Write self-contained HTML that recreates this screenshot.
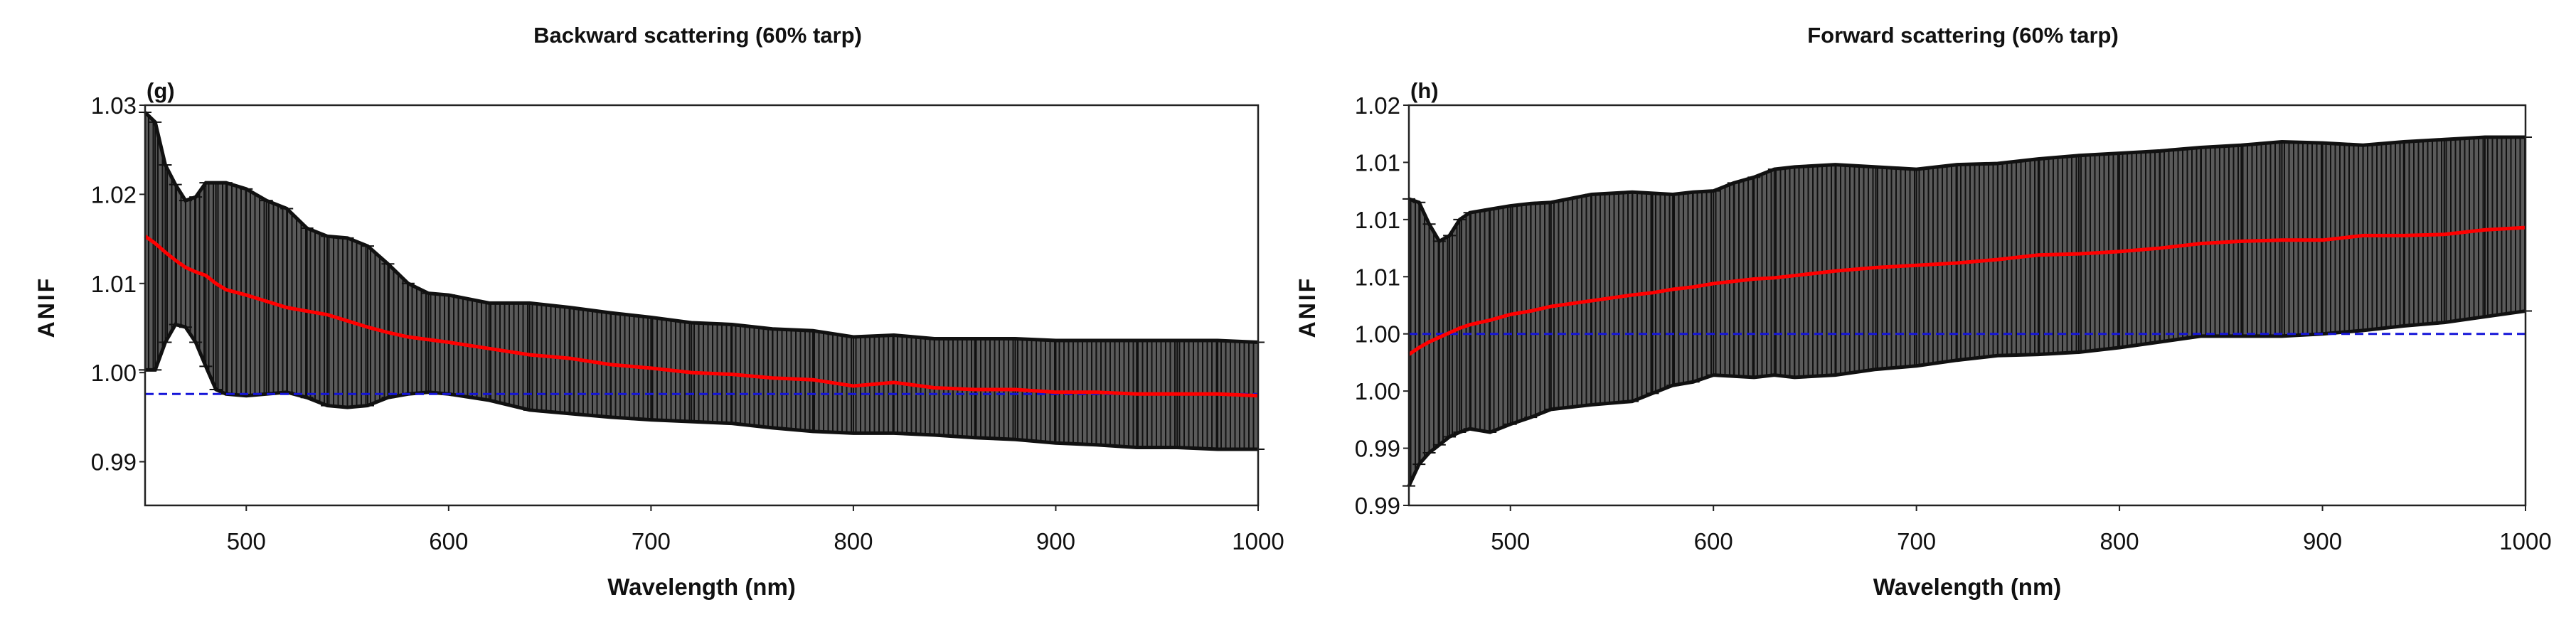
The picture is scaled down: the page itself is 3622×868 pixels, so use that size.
<!DOCTYPE html>
<html><head><meta charset="utf-8"><style>
html,body{margin:0;padding:0;background:#fff;}
svg{display:block;font-family:"Liberation Sans",Arial,sans-serif;}
</style></head><body>
<svg id="c" width="3622" height="868" viewBox="0 0 3622 868">
<defs>
<pattern id="stripes" patternUnits="userSpaceOnUse" width="6.5" height="10">
<rect width="6.5" height="10" fill="#5a5a5a"/>
<rect width="2" height="10" fill="#111"/>
</pattern>
</defs>
</svg>
<script>
// ---- Left chart (g): Backward scattering ----
const gWl    = [450,455,460,465,470,475,480,485,490,500,510,520,530,540,550,560,570,580,590,600,620,640,660,680,700,720,740,760,780,800,820,840,860,880,900,920,940,960,980,1000];
const gUpper = [1.0292,1.0281,1.0233,1.0211,1.0193,1.0197,1.0213,1.0213,1.0213,1.0206,1.0193,1.0184,1.0162,1.0153,1.0151,1.0142,1.0122,1.0100,1.0089,1.0087,1.0078,1.0078,1.0073,1.0067,1.0062,1.0056,1.0054,1.0049,1.0047,1.0040,1.0042,1.0038,1.0038,1.0038,1.0036,1.0036,1.0036,1.0036,1.0036,1.0034];
const gMean  = [1.0153,1.0145,1.0135,1.0126,1.0118,1.0113,1.0109,1.0100,1.0093,1.0087,1.0080,1.0073,1.0069,1.0065,1.0058,1.0051,1.0045,1.0040,1.0037,1.0034,1.0027,1.0020,1.0016,1.0009,1.0005,1.0000,0.9998,0.9994,0.9992,0.9985,0.9989,0.9983,0.9981,0.9981,0.9978,0.9978,0.9976,0.9976,0.9976,0.9974];
const gLower = [1.0003,1.0003,1.0034,1.0054,1.0051,1.0034,1.0007,0.9981,0.9976,0.9974,0.9976,0.9978,0.9972,0.9963,0.9961,0.9963,0.9972,0.9976,0.9978,0.9976,0.9969,0.9958,0.9954,0.9950,0.9947,0.9945,0.9943,0.9938,0.9934,0.9932,0.9932,0.9930,0.9927,0.9925,0.9921,0.9919,0.9916,0.9916,0.9914,0.9914];
const gTicksY = [0.99,1.00,1.01,1.02,1.03];
const gTickLabels = ["0.99","1.00","1.01","1.02","1.03"];
const gRef = 0.9976;
// ---- Right chart (h): Forward scattering ----
const hWl    = [450,455,460,465,470,475,480,490,500,510,520,540,560,570,580,590,600,610,620,630,640,660,680,700,720,740,760,780,800,820,840,860,880,900,920,940,960,980,1000];
const hUpper = [1.0118,1.0115,1.0096,1.0081,1.0086,1.0100,1.0106,1.0109,1.0112,1.0114,1.0115,1.0122,1.0124,1.0123,1.0122,1.0124,1.0125,1.0132,1.0137,1.0144,1.0146,1.0148,1.0146,1.0144,1.0148,1.0149,1.0153,1.0156,1.0158,1.0160,1.0163,1.0165,1.0168,1.0167,1.0165,1.0168,1.0170,1.0172,1.0172];
const hMean  = [0.9982,0.9988,0.9993,0.9997,1.0001,1.0005,1.0008,1.0012,1.0017,1.0020,1.0024,1.0029,1.0034,1.0036,1.0039,1.0041,1.0044,1.0046,1.0048,1.0049,1.0051,1.0055,1.0058,1.0060,1.0062,1.0065,1.0069,1.0070,1.0072,1.0075,1.0079,1.0081,1.0082,1.0082,1.0086,1.0086,1.0087,1.0091,1.0093];
const hLower = [0.9867,0.9886,0.9896,0.9903,0.9910,0.9914,0.9917,0.9914,0.9921,0.9927,0.9934,0.9938,0.9941,0.9948,0.9955,0.9958,0.9964,0.9963,0.9962,0.9964,0.9962,0.9964,0.9969,0.9972,0.9977,0.9981,0.9982,0.9984,0.9988,0.9993,0.9998,0.9998,0.9998,1.0000,1.0003,1.0007,1.0010,1.0015,1.0020];
const hTicksY = [0.985,0.99,0.995,1.00,1.005,1.01,1.015,1.02];
const hTickLabels = ["0.99","0.99","1.00","1.00","1.01","1.01","1.01","1.02"];
const hRef = 1.0;
const xTicks = [500,600,700,800,900,1000];

const NS="http://www.w3.org/2000/svg";
const svg=document.getElementById('c');
function mk(tag,attrs,parent){const e=document.createElementNS(NS,tag);for(const k in attrs)e.setAttribute(k,attrs[k]);(parent||svg).appendChild(e);return e;}

function chart(o){
  const g=mk('g',{});
  
  
  const xs=v=>o.L+(v-450)/(1000-450)*(o.R-o.L);
  const ys=v=>o.B-(v-o.ymin)/(o.ymax-o.ymin)*(o.B-o.T);
  let pts=o.wl.map((w,i)=>xs(w)+','+ys(o.up[i])).concat(o.wl.slice().reverse().map((w,j)=>{const i=o.wl.length-1-j;return xs(w)+','+ys(o.lo[i]);}));
  const band=mk('polygon',{points:pts.join(' '),fill:'url(#stripes)',stroke:'none'},g);
  
  
  o.wl.forEach((w,i)=>{
    const x=xs(w);
    const b=mk('path',{d:`M${x},${ys(o.up[i])}V${ys(o.lo[i])}M${x-9},${ys(o.up[i])}h18M${x-9},${ys(o.lo[i])}h18`,stroke:'#111','stroke-width':2,fill:'none'},g);
    
    
  });
  const ue=mk('polyline',{points:o.wl.map((w,i)=>xs(w)+','+ys(o.up[i])).join(' '),fill:'none',stroke:'#111','stroke-width':5},g);
  
  
  const le=mk('polyline',{points:o.wl.map((w,i)=>xs(w)+','+ys(o.lo[i])).join(' '),fill:'none',stroke:'#111','stroke-width':5},g);
  
  
  const rl=mk('line',{x1:o.L,x2:o.R,y1:ys(o.ref),y2:ys(o.ref),stroke:'#1515d8','stroke-width':3,'stroke-dasharray':'12,7'},g);
  
  
  const ml=mk('polyline',{points:o.wl.map((w,i)=>xs(w)+','+ys(o.mean[i])).join(' '),fill:'none',stroke:'#ff0000','stroke-width':5},g);
  
  
  const fr=mk('rect',{x:o.L,y:o.T,width:o.R-o.L,height:o.B-o.T,fill:'none',stroke:'#222','stroke-width':2.5},g);
  
  
  o.ticks.forEach((t,i)=>{
    const y=ys(t);
    mk('line',{x1:o.L-8,x2:o.L,y1:y,y2:y,stroke:'#222','stroke-width':2},g);
    const tx=mk('text',{x:o.L-12,y:y+12,'text-anchor':'end','font-size':33,fill:'#111'},g);
    tx.textContent=o.labels[i];
    
    
  });
  xTicks.forEach(t=>{
    const x=xs(t);
    mk('line',{x1:x,x2:x,y1:o.B,y2:o.B+8,stroke:'#222','stroke-width':2},g);
    const tx=mk('text',{x:x,y:773,'text-anchor':'middle','font-size':33,fill:'#111'},g);
    tx.textContent=t;
    
    
  });
  const xt=mk('text',{x:(o.L+o.R)/2,y:837,'text-anchor':'middle','font-size':33,'font-weight':'bold',fill:'#111'},g);
  xt.textContent='Wavelength (nm)';
  
  
  const yt=mk('text',{x:0,y:0,transform:`translate(${o.yTitleX},432) rotate(-90)`,'text-anchor':'middle','font-size':32,'font-weight':'bold','letter-spacing':'3',fill:'#111'},g);
  yt.textContent='ANIF';
  
  
  const tt=mk('text',{x:o.titleX,y:60,'text-anchor':'middle','font-size':31,'font-weight':'bold',fill:'#111'},g);
  tt.textContent=o.title;
  
  
  const pl=mk('text',{x:o.L+2,y:138,'font-size':31,'font-weight':'bold',fill:'#111'},g);
  pl.textContent=o.panel;
  
  
}
chart({name:'backward-chart',L:204,R:1769,T:148,B:711,ymin:0.9851,ymax:1.03,wl:gWl,up:gUpper,mean:gMean,lo:gLower,ticks:gTicksY,labels:gTickLabels,ref:gRef,yTitleX:76,titleX:981,title:'Backward scattering (60% tarp)',panel:'(g)'});
chart({name:'forward-chart',L:1981,R:3551,T:148,B:711,ymin:0.985,ymax:1.02,wl:hWl,up:hUpper,mean:hMean,lo:hLower,ticks:hTicksY,labels:hTickLabels,ref:hRef,yTitleX:1849,titleX:2760,title:'Forward scattering (60% tarp)',panel:'(h)'});
</script>
</body></html>
